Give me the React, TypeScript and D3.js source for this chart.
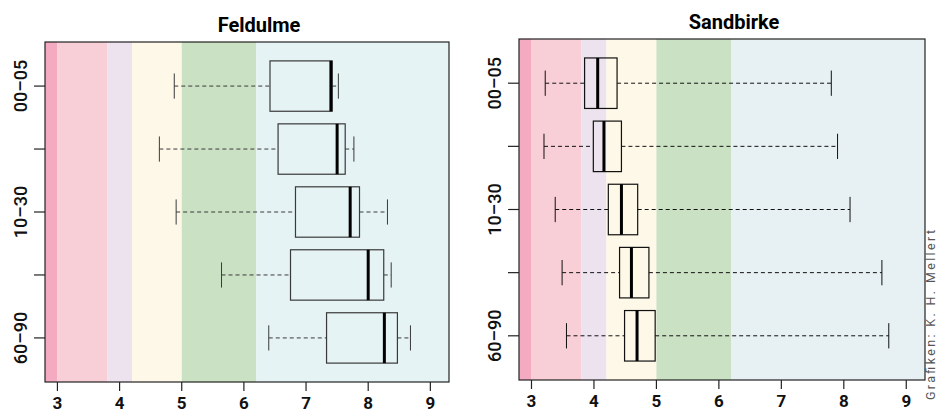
import React from 'react';
import * as d3 from 'd3';

// age classes (rows, top to bottom); only every second label fits
const AGE_GROUPS = ['00–05', '05–10', '10–30', '30–60', '60–90'];
const LABEL_SHOWN = [true, false, true, false, true];

// site-index bands on the x axis
const BAND_EDGES = [2.8, 3.0, 3.8, 4.2, 5.0, 6.2, 9.3];
const BAND_COLORS_L = ['#f4aac1', '#f8ced7', '#ede3ef', '#fef8e8', '#cae1c3', '#e5f3f4'];
const BAND_COLORS_R = ['#f4aac1', '#f8ced7', '#ede3ef', '#fef8e8', '#cae1c3', '#e7f0f2'];

const X_TICKS = [3, 4, 5, 6, 7, 8, 9];

// Feldulme
const FELDULME_LOW = [4.88, 4.64, 4.91, 5.64, 6.40];
const FELDULME_Q1 = [6.42, 6.55, 6.83, 6.75, 7.33];
const FELDULME_MED = [7.40, 7.50, 7.71, 8.00, 8.26];
const FELDULME_Q3 = [7.42, 7.63, 7.86, 8.25, 8.47];
const FELDULME_HIGH = [7.52, 7.77, 8.31, 8.37, 8.68];

// Sandbirke
const SANDBIRKE_LOW = [3.22, 3.20, 3.38, 3.49, 3.56];
const SANDBIRKE_Q1 = [3.85, 3.99, 4.23, 4.41, 4.49];
const SANDBIRKE_MED = [4.06, 4.16, 4.44, 4.60, 4.69];
const SANDBIRKE_Q3 = [4.37, 4.44, 4.70, 4.88, 4.98];
const SANDBIRKE_HIGH = [7.80, 7.90, 8.10, 8.61, 8.72];

const FONT = 'Roboto, "DejaVu Sans", sans-serif';

type PanelProps = {
  title: string;
  x0: number; x1: number; y0: number; y1: number;
  bands: string[];
  line: string;
  low: number[]; q1: number[]; med: number[]; q3: number[]; high: number[];
};

function Panel({ title, x0, x1, y0, y1, bands, line, low, q1, med, q3, high }: PanelProps) {
  const x = d3.scaleLinear().domain([2.8, 9.3]).range([x0, x1]);
  const y = d3.scaleLinear().domain([0.3, AGE_GROUPS.length + 0.7]).range([y0, y1]);
  const half = (y(1.4) - y(1)); // box half height (boxwex 0.8)
  const cap = half / 2;

  return (
    <g>
      <text x={(x0 + x1) / 2 + 12} y={y0 - 10.5} textAnchor="middle" fontFamily={FONT}
        fontWeight={700} fontSize={20} fill="#000">{title}</text>

      {bands.map((c, i) => (
        <rect key={i} x={x(BAND_EDGES[i])} y={y0}
          width={x(BAND_EDGES[i + 1]) - x(BAND_EDGES[i])} height={y1 - y0} fill={c} />
      ))}

      {AGE_GROUPS.map((g, i) => {
        const cy = y(i + 1);
        return (
          <g key={g} stroke={line} fill="none">
            <line x1={x(low[i])} x2={x(q1[i])} y1={cy} y2={cy} strokeDasharray="4,3" />
            <line x1={x(q3[i])} x2={x(high[i])} y1={cy} y2={cy} strokeDasharray="4,3" />
            <line x1={x(low[i])} x2={x(low[i])} y1={cy - cap} y2={cy + cap} />
            <line x1={x(high[i])} x2={x(high[i])} y1={cy - cap} y2={cy + cap} />
            <rect x={x(q1[i])} y={cy - half} width={x(q3[i]) - x(q1[i])} height={2 * half}
              strokeWidth={1.2} />
            <line x1={x(med[i])} x2={x(med[i])} y1={cy - half} y2={cy + half}
              stroke="#000" strokeWidth={3} />
          </g>
        );
      })}

      <rect x={x0} y={y0} width={x1 - x0} height={y1 - y0} fill="none" stroke="#222" strokeWidth={1.2} />

      {X_TICKS.map(t => (
        <g key={t}>
          <line x1={x(t)} x2={x(t)} y1={y1} y2={y1 + 9} stroke="#222" strokeWidth={1.2} />
          <text x={x(t)} y={y1 + 27} textAnchor="middle" fontFamily={FONT} fontWeight={700}
            fontSize={17} fill="#111">{t}</text>
        </g>
      ))}

      {AGE_GROUPS.map((g, i) => (
        <g key={g}>
          <line x1={x0 - 11} x2={x0} y1={y(i + 1)} y2={y(i + 1)} stroke="#222" strokeWidth={1.2} />
          {LABEL_SHOWN[i] && (
            <text transform={`translate(${x0 - 18},${y(i + 1)}) rotate(-90)`} textAnchor="middle"
              fontFamily={FONT} fontWeight={500} fontSize={18} fill="#111">{g}</text>
          )}
        </g>
      ))}
    </g>
  );
}

export default function App() {
  return (
    <div style={{ position: 'absolute', left: 0, top: 0 }}>
      <svg width={938} height={412} viewBox="0 0 938 412" style={{ display: 'block', background: '#fff' }}>
        <Panel title="Feldulme" x0={45} x1={449} y0={42} y1={382} bands={BAND_COLORS_L} line="#3a3a3a"
          low={FELDULME_LOW} q1={FELDULME_Q1} med={FELDULME_MED} q3={FELDULME_Q3} high={FELDULME_HIGH} />
        <Panel title="Sandbirke" x0={519} x1={925} y0={39} y1={380} bands={BAND_COLORS_R} line="#111"
          low={SANDBIRKE_LOW} q1={SANDBIRKE_Q1} med={SANDBIRKE_MED} q3={SANDBIRKE_Q3} high={SANDBIRKE_HIGH} />
        <text transform="translate(935,400) rotate(-90)" fontFamily={FONT} fontSize={12.5}
          fill="#555" textLength={170}>Grafiken: K. H. Mellert</text>
      </svg>
    </div>
  );
}
